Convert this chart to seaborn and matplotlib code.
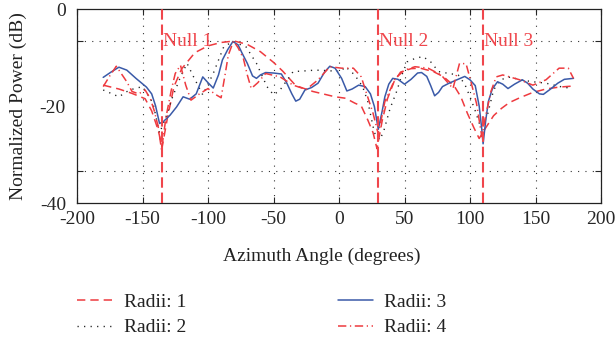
import numpy as np
import pandas as pd
import matplotlib
matplotlib.use("Agg")
import matplotlib.pyplot as plt
import seaborn as sns

# ---- data -------------------------------------------------------------
r1_az = [-180, -168, -158, -148, -143, -138, -135, -131, -126, -120, -110, -100,
         -90, -80, -70, -60, -50, -43, -33, -20, -3, 5, 12, 17, 22, 26, 29, 33,
         37, 42, 47, 55, 62, 72, 80, 88, 93, 98, 103, 107, 112, 118, 124, 130,
         138, 148, 158, 168, 178]
r1_db = [-15.7, -16.5, -17.4, -18.5, -21.0, -25.0, -28.5, -22.5, -16.0, -12.3, -9.0, -7.6,
         -6.9, -6.6, -7.3, -8.8, -11.0, -12.8, -15.8, -17.0, -18.1, -18.4, -19.4, -20.0, -22.9, -25.5, -28.8, -23.0,
         -18.5, -15.0, -13.0, -12.3, -12.2, -12.9, -14.0, -15.9, -18.1, -21.5, -24.5, -26.7, -24.5, -22.0, -20.5, -19.3,
         -18.3, -17.2, -16.5, -16.1, -15.9]

r2_az = [-180, -168, -160, -150, -142, -137, -132, -127, -121, -116, -111, -104,
         -96, -88, -81, -71, -63, -55, -50, -45, -35, -28, -18, -9, 1, 5, 12,
         18, 22, 27, 31, 34, 39, 44, 48, 52, 58, 64, 70, 76, 84, 91, 96, 100,
         104, 108, 113, 118, 123, 131, 138, 148, 158, 169, 178]
r2_db = [-16.7, -18.1, -16.7, -16.0, -19.4, -25.6, -22.2, -18.1, -14.0, -11.2, -14.0, -17.7,
         -13.3, -7.8, -6.7, -7.8, -11.2, -16.0, -17.7, -16.7, -12.9, -12.8, -12.6, -12.7, -12.9, -11.9, -13.6,
         -16.0, -19.1, -25.5, -27.0, -25.3, -20.5, -17.0, -13.6, -10.9, -10.2, -9.8, -10.9, -12.9, -13.3, -13.6, -15.5, -18.1,
         -21.0, -24.3, -22.2, -16.7, -14.6, -14.0, -14.6, -15.0, -15.3, -16.0, -16.4]

r3_az = [-180, -174, -168, -162, -155, -147, -143, -140, -137, -134, -129, -124,
         -119, -114, -109, -104, -100, -96, -92, -89, -85, -81, -77, -74, -70,
         -66, -63, -60, -56, -50, -44, -40, -36, -33, -30, -26, -21, -16, -11,
         -7, -3, 2, 6, 10, 15, 20, 24, 27, 30, 33, 35, 38, 41, 45, 50, 55, 60,
         63, 67, 70, 73, 76, 79, 84, 90, 96, 100, 104, 107, 109, 110, 112, 114,
         117, 121, 125, 129, 134, 140, 144, 148, 153, 156, 162, 167, 172, 179]
r3_db = [-14.1, -13.0, -12.0, -12.6, -14.3, -16.1, -17.5, -20.0, -23.6, -23.2, -21.9, -20.2,
         -18.1, -18.6, -17.5, -14.0, -15.2, -16.3, -13.6, -10.5, -8.4, -6.7, -7.4, -9.1, -11.2,
         -13.8, -14.3, -13.6, -13.1, -13.2, -13.4, -15.2, -17.5, -19.0, -18.6, -16.7, -16.2, -15.3, -13.0,
         -11.8, -12.2, -14.3, -16.9, -16.5, -15.7, -16.0, -17.5, -20.1, -24.8, -21.0, -18.1, -15.5, -14.3, -14.5, -15.5, -14.5, -13.2,
         -13.1, -13.9, -15.8, -17.9, -17.2, -16.0, -15.3, -14.6, -13.9, -14.6, -15.8, -20.0, -24.8, -27.8, -23.0, -19.1,
         -16.5, -15.0, -15.5, -16.4, -15.5, -14.6, -15.3, -16.5, -17.5, -17.6, -16.4, -15.3, -14.5, -14.3]

r4_az = [-180, -175, -170, -162, -158, -153, -148, -144, -141, -138, -135.5, -132,
         -128, -125, -121, -117, -113, -107, -100, -95, -90, -87, -84.5, -80.5,
         -77, -73, -70, -67, -62, -56, -45, -35, -25, -16, -7, 2, 11, 17, 21, 26,
         30, 35, 43, 50, 58, 68, 78, 87, 92, 97, 101, 105, 109, 112, 116, 120,
         125, 138, 148, 158, 168, 175, 179]
r4_db = [-16.0, -13.8, -11.8, -15.0, -17.0, -17.5, -16.7, -18.5, -21.0, -24.3, -29.0, -22.2,
         -16.7, -13.3, -11.6, -15.7, -18.8, -17.6, -16.4, -17.5, -18.3, -13.6, -9.5, -6.6,
         -8.0, -10.2, -13.6, -16.4, -15.2, -13.3, -14.0, -15.7, -16.6, -14.6, -11.9, -12.2, -12.2, -14.0, -17.4, -21.5,
         -25.8, -19.1, -14.3, -12.6, -11.9, -12.2, -13.6, -16.4, -11.2, -11.3, -15.3, -19.5, -26.3, -22.0, -17.0, -14.0,
         -13.6, -14.6, -15.7, -14.6, -12.2, -12.2, -14.3]

null_az = [-135, 30, 110]
null_labels = ["Null 1", "Null 2", "Null 3"]

series_labels = ["Radii: 1", "Radii: 2", "Radii: 3", "Radii: 4"]
x_ticks = list(range(-200, 201, 50))
y_label_ticks = [0, -20, -40]
y_grid_ticks = [-6.67, -20, -33.33]

# ---- style ------------------------------------------------------------
sns.set_style("white")
plt.rcParams["font.family"] = ["Liberation Serif", "DejaVu Serif"]
plt.rcParams["lines.scale_dashes"] = False
plt.rcParams["axes.unicode_minus"] = False
plt.rcParams["font.size"] = 14

RED = "#ee3a3f"
BLUE = "#3a5aa8"
NULL_RED = "#f0464c"

fig = plt.figure(figsize=(6.16, 3.44), dpi=100)
ax = fig.add_axes([77 / 616, 1 - 203 / 344, 524 / 616, 194 / 344])

styles = [
    dict(color=RED, lw=1.1, linestyle=(0, (6.0, 3.6))),
    dict(color="#222222", lw=1.0, linestyle=(0, (0.9, 3.8))),
    dict(color=BLUE, lw=1.1, linestyle="-"),
    dict(color=RED, lw=1.1, linestyle=(0, (6.0, 2.6, 0.9, 2.6))),
]
frames = [
    pd.DataFrame({"az": r1_az, "db": r1_db}),
    pd.DataFrame({"az": r2_az, "db": r2_db}),
    pd.DataFrame({"az": r3_az, "db": r3_db}),
    pd.DataFrame({"az": r4_az, "db": r4_db}),
]

draw_order = [1, 2, 0, 3]
for i in draw_order:
    sns.lineplot(data=frames[i], x="az", y="db", ax=ax, estimator=None,
                 sort=False, zorder=3 + i, **styles[i])

# null markers
for az, lab in zip(null_az, null_labels):
    ax.axvline(az, color=NULL_RED, lw=1.5, linestyle=(0, (7.5, 3.5)), zorder=8)
    ax.text(az + 0.8, -6.6, lab, color=NULL_RED, fontsize=14,
            ha="left", va="center", zorder=9)

# axes, ticks, grid
ax.set_xlim(-200, 200)
ax.set_ylim(-40, 0)
ax.set_xticks(x_ticks)
ax.set_yticks(y_label_ticks)
ax.set_yticks(y_grid_ticks, minor=True)
ax.tick_params(axis="x", which="major", direction="in", length=4, top=True,
               bottom=True, pad=6, labelsize=14, width=0.8)
ax.tick_params(axis="y", which="major", length=0, pad=8, labelsize=14)
ax.tick_params(axis="y", which="minor", direction="in", length=4, left=True,
               right=True, width=0.8)
ax.xaxis.grid(True, which="major", linestyle=(0, (0.8, 4.5)), color="#333333", lw=0.8)
ax.yaxis.grid(True, which="minor", linestyle=(0, (0.8, 4.5)), color="#333333", lw=0.8)
ax.yaxis.grid(False, which="major")
for sp in ax.spines.values():
    sp.set_color("#222222")
    sp.set_linewidth(0.9)
ax.set_xlabel("")
ax.set_ylabel("")

fig.text(18 / 616, 1 - 106 / 344, "Normalized Power (dB)", rotation=90,
         ha="center", va="center", fontsize=14, color="#222222")
fig.text(322 / 616, 1 - 256 / 344, "Azimuth Angle (degrees)",
         ha="center", va="center", fontsize=14, color="#222222")

handles = [ax.lines[draw_order.index(i)] for i in range(4)]
leg = fig.legend(handles, series_labels, ncol=2, loc="upper left",
                 bbox_to_anchor=(77 / 616, 1 - 293 / 344), frameon=False,
                 borderpad=0, borderaxespad=0, handlelength=1.8,
                 handletextpad=0.6, columnspacing=7.8, labelspacing=0.42,
                 fontsize=14)
for t in leg.get_texts():
    t.set_color("#222222")

fig.savefig("out.png", dpi=100)
